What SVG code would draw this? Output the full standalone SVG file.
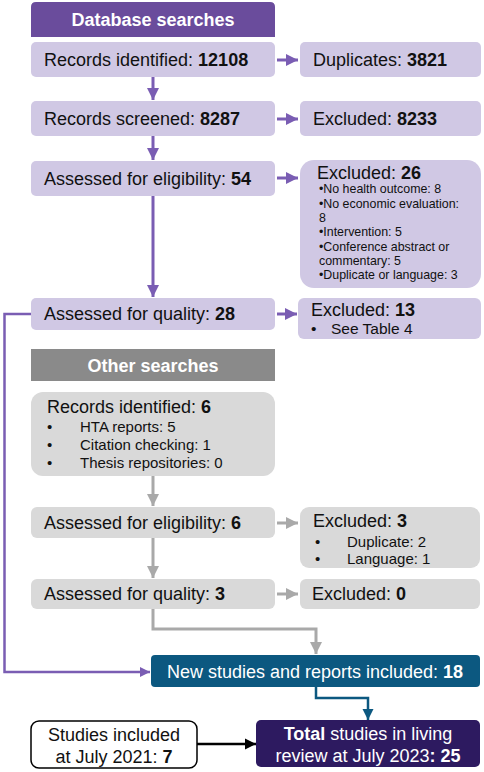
<svg xmlns="http://www.w3.org/2000/svg" width="484" height="772" viewBox="0 0 484 772">
<defs>
<marker id="mp" viewBox="0 0 10 10" refX="10" refY="5" markerWidth="4" markerHeight="4" orient="auto" markerUnits="strokeWidth"><path d="M0,0 L10,5 L0,10 z" fill="#7a5db3"/></marker>
<marker id="mg" viewBox="0 0 10 10" refX="10" refY="5" markerWidth="4" markerHeight="4" orient="auto" markerUnits="strokeWidth"><path d="M0,0 L10,5 L0,10 z" fill="#a9a9a9"/></marker>
<marker id="mb" viewBox="0 0 10 10" refX="10" refY="5" markerWidth="4.5" markerHeight="4.5" orient="auto" markerUnits="strokeWidth"><path d="M0,0 L10,5 L0,10 z" fill="#0c5880"/></marker>
<marker id="mk" viewBox="0 0 10 10" refX="10" refY="5" markerWidth="4.5" markerHeight="4.5" orient="auto" markerUnits="strokeWidth"><path d="M0,0 L10,5 L0,10 z" fill="#000"/></marker>
</defs>
<style>
text{font-family:"Liberation Sans",Arial,sans-serif;fill:#111}
.t{font-size:18px}
.s{font-size:12.4px}
.m{font-size:15px}
.b{font-weight:bold}
.w{fill:#fff}
.lp{fill:#d0c8e4}
.lg{fill:#d9d9d9}
.cp{fill:none;stroke:#7a5db3;stroke-width:3}
.cp2{fill:none;stroke:#7a5db3;stroke-width:2.5}
.cg{fill:none;stroke:#a9a9a9;stroke-width:3}
.cb{fill:none;stroke:#0c5880;stroke-width:2.5}
.ck{fill:none;stroke:#000;stroke-width:2.5}
</style>
<g id="connectors">
<line class="cp" x1="277" y1="60" x2="298" y2="60" marker-end="url(#mp)"/>
<line class="cp" x1="277" y1="119" x2="298" y2="119" marker-end="url(#mp)"/>
<line class="cp" x1="277" y1="178" x2="298" y2="178" marker-end="url(#mp)"/>
<line class="cp" x1="277" y1="314" x2="297" y2="314" marker-end="url(#mp)"/>
<line class="cp" x1="153" y1="77" x2="153" y2="100" marker-end="url(#mp)"/>
<line class="cp" x1="153" y1="136" x2="153" y2="160" marker-end="url(#mp)"/>
<line class="cp" x1="153" y1="196" x2="153" y2="297" marker-end="url(#mp)"/>
<path class="cp2" d="M31,314 H4.5 V672 H150" marker-end="url(#mp)"/>
<line class="cg" x1="153" y1="476" x2="153" y2="506" marker-end="url(#mg)"/>
<line class="cg" x1="153" y1="538" x2="153" y2="578" marker-end="url(#mg)"/>
<line class="cg" x1="277" y1="523" x2="298" y2="523" marker-end="url(#mg)"/>
<line class="cg" x1="277" y1="594" x2="298" y2="594" marker-end="url(#mg)"/>
<path class="cg" d="M153,609 V629 H316 V654" marker-end="url(#mg)"/>
<path class="cb" d="M316,687 V698 H368 V720" marker-end="url(#mb)"/>
<line class="ck" x1="197" y1="744" x2="256" y2="744" marker-end="url(#mk)"/>
</g>
<g id="db-header">
<path d="M36,2 H270 Q275,2 275,7 V37 H31 V7 Q31,2 36,2 z" fill="#6a4c9c"/>
<text x="153" y="26" text-anchor="middle" class="t b w">Database searches</text>
</g>
<g id="db-identified">
<rect x="31" y="42" width="244" height="35" rx="5" class="lp"/>
<text x="44" y="66" class="t">Records identified: <tspan class="b">12108</tspan></text>
</g>
<g id="db-duplicates">
<rect x="300" y="42" width="181" height="35" rx="5" class="lp"/>
<text x="313" y="66" class="t">Duplicates: <tspan class="b">3821</tspan></text>
</g>
<g id="db-screened">
<rect x="31" y="101" width="244" height="35" rx="5" class="lp"/>
<text x="44" y="125" class="t">Records screened: <tspan class="b">8287</tspan></text>
</g>
<g id="db-excluded1">
<rect x="300" y="101" width="181" height="35" rx="5" class="lp"/>
<text x="313" y="125" class="t">Excluded: <tspan class="b">8233</tspan></text>
</g>
<g id="db-eligibility">
<rect x="31" y="161" width="244" height="35" rx="5" class="lp"/>
<text x="44" y="185" class="t">Assessed for eligibility: <tspan class="b">54</tspan></text>
</g>
<g id="db-excluded2">
<rect x="300" y="160" width="181" height="128" rx="14" class="lp"/>
<text x="317" y="179" class="t">Excluded: <tspan class="b">26</tspan></text>
<text class="s" x="319" y="193">•No health outcome: 8</text>
<text class="s" x="319" y="207.5">•No economic evaluation:</text>
<text class="s" x="319" y="222">8</text>
<text class="s" x="319" y="236">•Intervention: 5</text>
<text class="s" x="319" y="250.5">•Conference abstract or</text>
<text class="s" x="319" y="265">commentary: 5</text>
<text class="s" x="319" y="279">•Duplicate or language: 3</text>
</g>
<g id="db-quality">
<rect x="31" y="298" width="244" height="32" rx="5" class="lp"/>
<text x="44" y="320" class="t">Assessed for quality: <tspan class="b">28</tspan></text>
</g>
<g id="db-excluded3">
<rect x="298" y="298" width="183" height="41" rx="6" class="lp"/>
<text x="311" y="316" class="t">Excluded: <tspan class="b">13</tspan></text>
<text x="311" y="334" style="font-size:15.5px">•</text>
<text x="331" y="334" style="font-size:15.5px">See Table 4</text>
</g>
<g id="other-header">
<path d="M31,349 H275 V381 H31 z" fill="#8a8a8a"/>
<text x="153" y="372" text-anchor="middle" class="t b w">Other searches</text>
</g>
<g id="os-identified">
<rect x="31" y="392" width="244" height="84" rx="12" class="lg"/>
<text x="47" y="413" class="t">Records identified: <tspan class="b">6</tspan></text>
<text x="47" y="432" class="m">•</text><text x="80" y="432" class="m">HTA reports: 5</text>
<text x="47" y="450" class="m">•</text><text x="80" y="450" class="m">Citation checking: 1</text>
<text x="47" y="468" class="m">•</text><text x="80" y="468" class="m">Thesis repositories: 0</text>
</g>
<g id="os-eligibility">
<rect x="31" y="507" width="244" height="31" rx="6" class="lg"/>
<text x="44" y="529" class="t">Assessed for eligibility: <tspan class="b">6</tspan></text>
</g>
<g id="os-excluded1">
<rect x="300" y="507" width="180" height="61" rx="9" class="lg"/>
<text x="313" y="527" class="t">Excluded: <tspan class="b">3</tspan></text>
<text x="315" y="547" class="m">•</text><text x="347" y="547" class="m">Duplicate: 2</text>
<text x="315" y="564" class="m">•</text><text x="347" y="564" class="m">Language: 1</text>
</g>
<g id="os-quality">
<rect x="31" y="579" width="244" height="30" rx="6" class="lg"/>
<text x="44" y="600" class="t">Assessed for quality: <tspan class="b">3</tspan></text>
</g>
<g id="os-excluded2">
<rect x="300" y="579" width="180" height="30" rx="6" class="lg"/>
<text x="312" y="600" class="t">Excluded: <tspan class="b">0</tspan></text>
</g>
<g id="new-included">
<rect x="151" y="655" width="329" height="32" rx="4" fill="#0c5880"/>
<text x="315" y="677.5" text-anchor="middle" class="t w">New studies and reports included: <tspan class="b">18</tspan></text>
</g>
<g id="prior-included">
<rect x="31" y="721" width="166" height="47" rx="8" fill="#fff" stroke="#000" stroke-width="1.5"/>
<text x="114" y="741" text-anchor="middle" class="t">Studies included</text>
<text x="114" y="763" text-anchor="middle" class="t">at July 2021: <tspan class="b">7</tspan></text>
</g>
<g id="total">
<rect x="256" y="720" width="224" height="47" rx="5" fill="#2d1a60"/>
<text x="368" y="740" text-anchor="middle" class="t w"><tspan class="b">Total</tspan> studies in living</text>
<text x="368" y="762" text-anchor="middle" class="t w">review at July 2023<tspan class="b">: 25</tspan></text>
</g>
</svg>
